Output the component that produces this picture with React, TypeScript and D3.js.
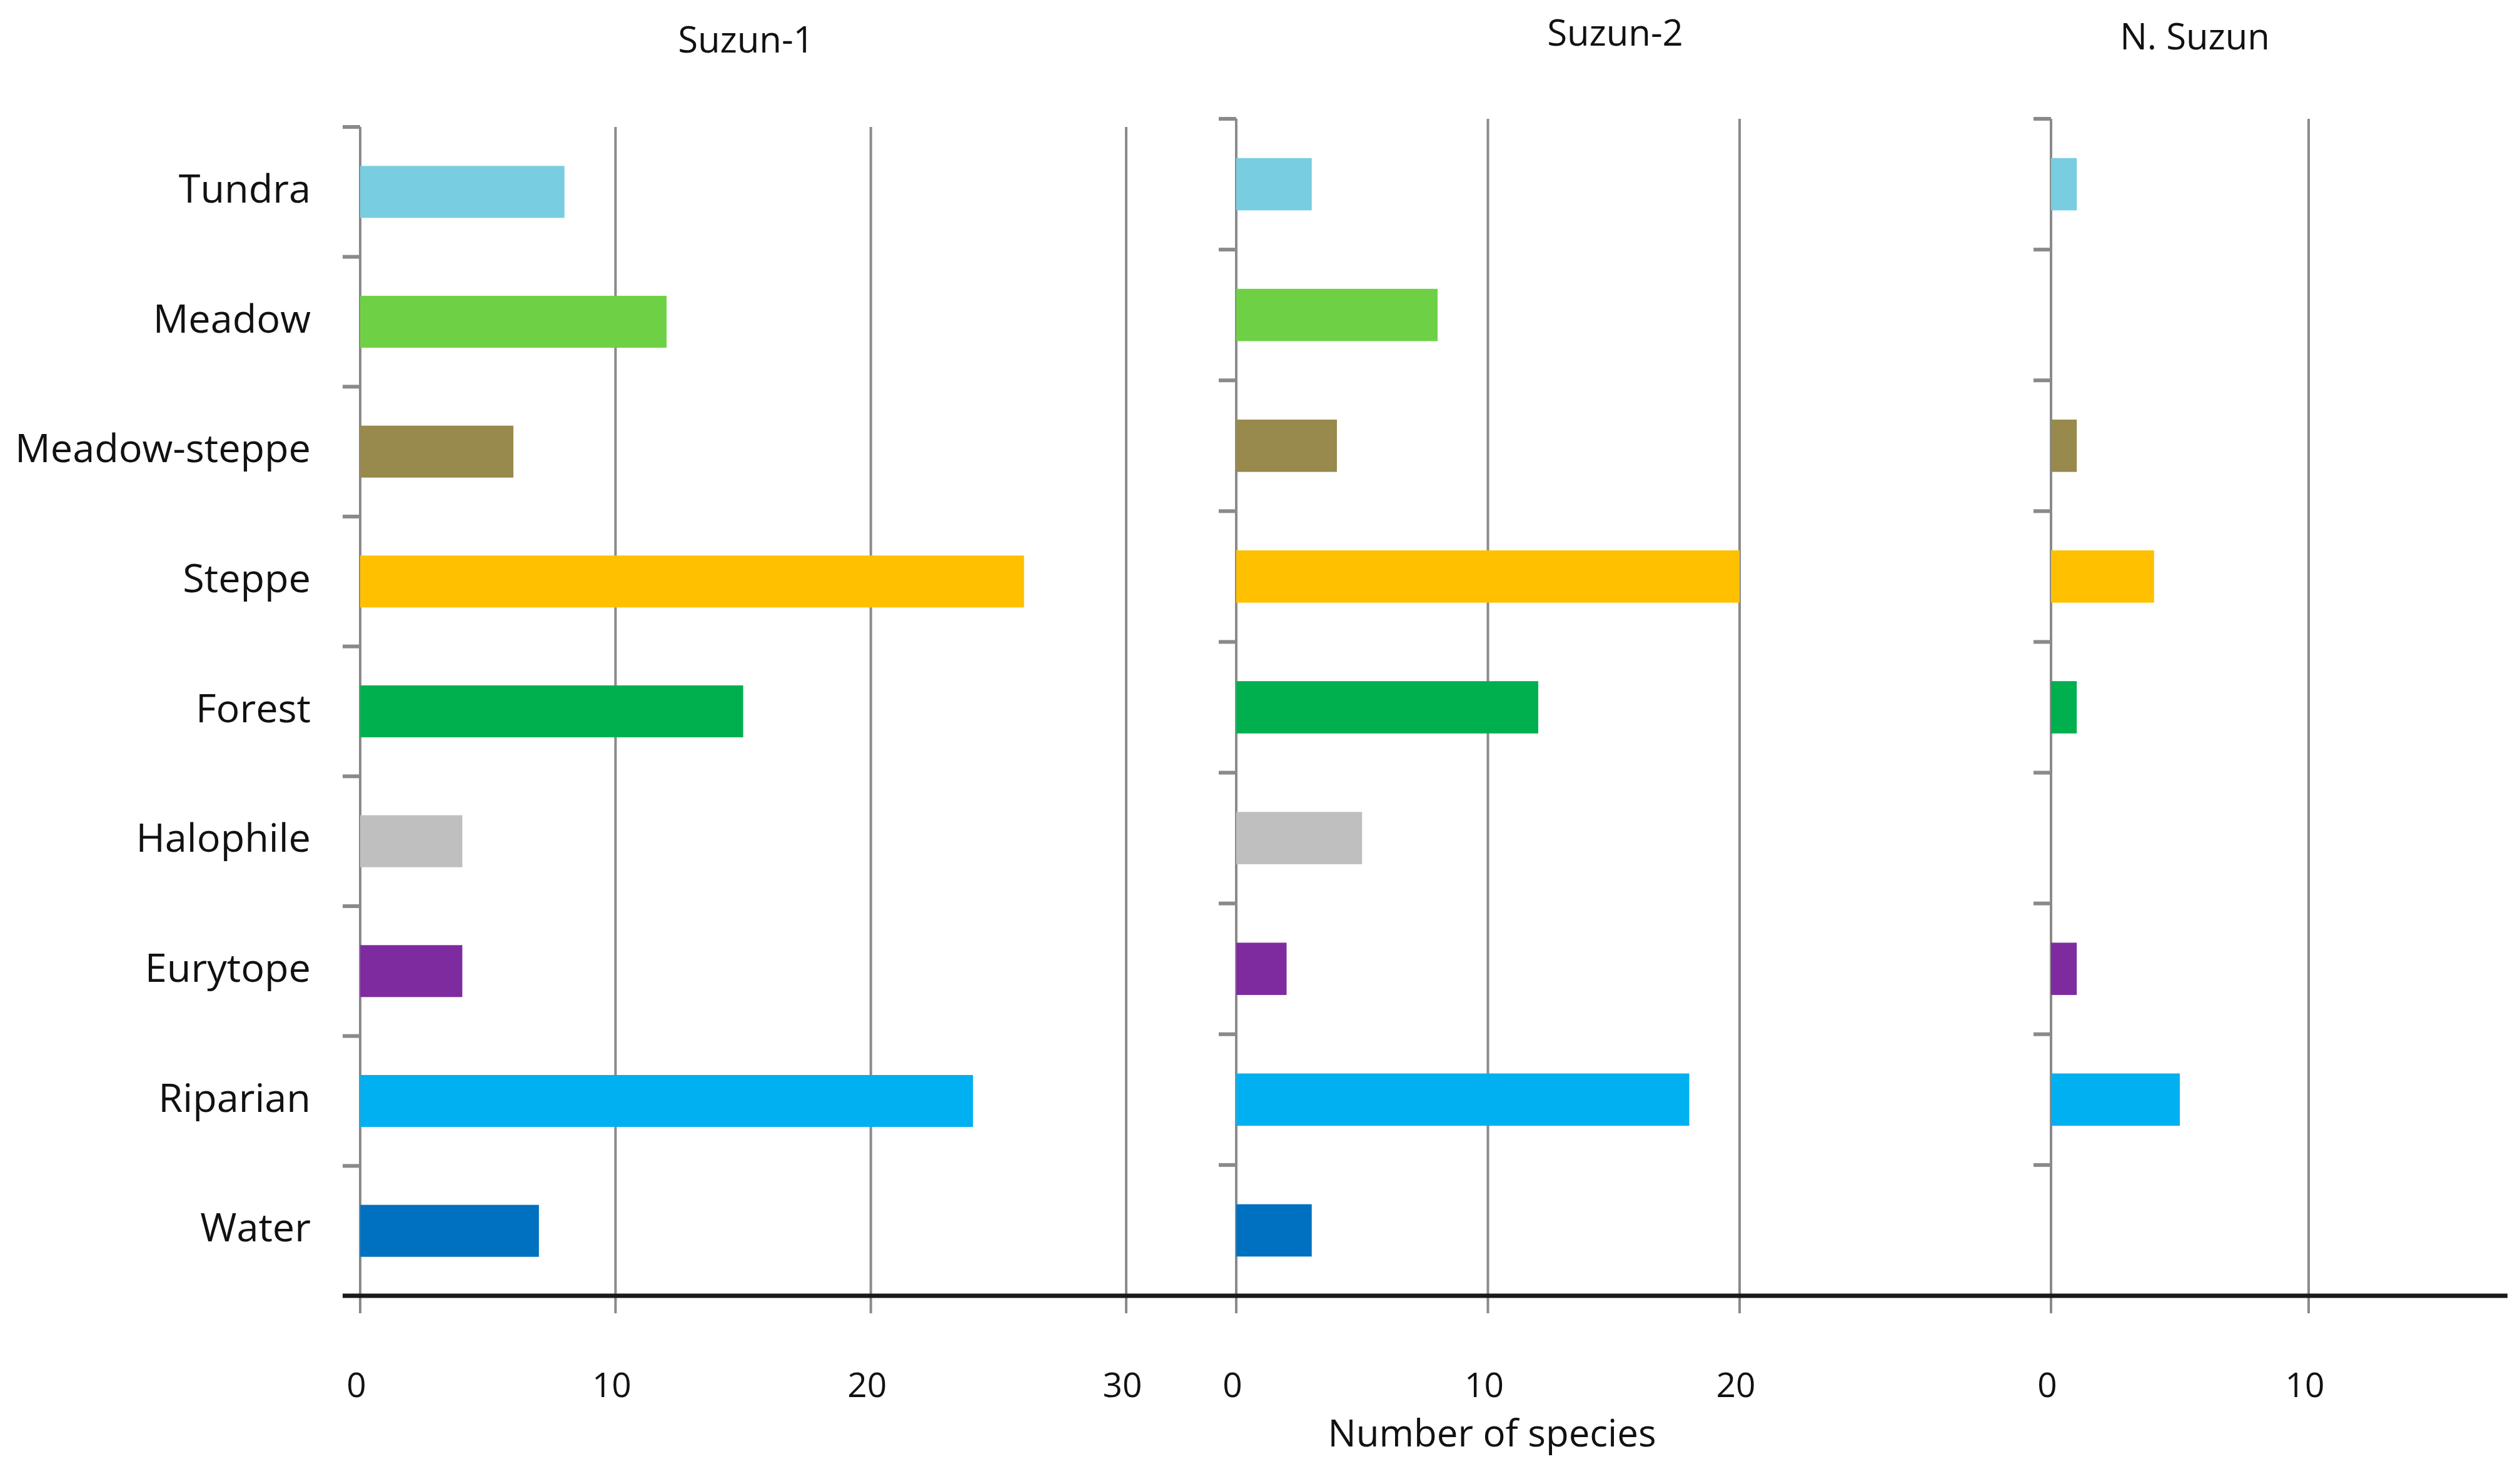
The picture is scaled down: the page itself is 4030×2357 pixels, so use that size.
import * as d3 from 'd3';

const categories = ['Tundra', 'Meadow', 'Meadow-steppe', 'Steppe', 'Forest', 'Halophile', 'Eurytope', 'Riparian', 'Water'];
const categoryColors = ['#78cde0', '#6ed145', '#98894c', '#ffc000', '#00b04f', '#bfbfbf', '#7f2ba0', '#00b0f0', '#0070c0'];

const siteNames = ['Suzun-1', 'Suzun-2', 'N. Suzun'];
const suzun1Values = [8, 12, 6, 26, 15, 4, 4, 24, 7];
const suzun2Values = [3, 8, 4, 20, 12, 5, 2, 18, 3];
const nSuzunValues = [1, 0, 1, 4, 1, 0, 1, 5, 0];

const suzun1Ticks = [0, 10, 20, 30];
const suzun2Ticks = [0, 10, 20];
const nSuzunTicks = [0, 10];

const xTitle = 'Number of species';

const W = 4030;
const H = 2357;
const axisY = 2072;
const gridBottom = 2100;
const font = '"Open Sans", "DejaVu Sans", sans-serif';

// layout for each panel: pixel range of the tick span, top of the category band, title spot
const panels = [
  { name: siteNames[0], values: suzun1Values, ticks: suzun1Ticks, x0: 576, x1: 1801, top: 203, titleX: 1193, titleY: 84 },
  { name: siteNames[1], values: suzun2Values, ticks: suzun2Ticks, x0: 1977, x1: 2782, top: 190, titleX: 2583, titleY: 73 },
  { name: siteNames[2], values: nSuzunValues, ticks: nSuzunTicks, x0: 3280, x1: 3692, top: 190, titleX: 3510, titleY: 79 },
];

function Panel({ p, showLabels }: { p: typeof panels[number]; showLabels: boolean }) {
  const maxTick = p.ticks[p.ticks.length - 1];
  const x = d3.scaleLinear().domain([0, maxTick]).range([p.x0, p.x1]);
  const y = d3.scaleBand<string>().domain(categories).range([p.top, axisY]).paddingInner(0.6).paddingOuter(0.3);
  const off = (y.step() - y.bandwidth()) / 2;

  return (
    <g>
      <text x={p.titleX} y={p.titleY} textAnchor="middle" fontFamily={font} fontSize={58} fill="#111">
        {p.name}
      </text>
      {p.ticks.map((t) => (
        <line key={'g' + t} x1={x(t)} x2={x(t)} y1={p.top} y2={gridBottom} stroke="#8a8a8a" strokeWidth={4} />
      ))}
      {categories.map((c) => (
        <line key={'t' + c} x1={x(0) - 28} x2={x(0)} y1={(y(c) as number) - off} y2={(y(c) as number) - off} stroke="#8a8a8a" strokeWidth={6} />
      ))}
      {categories.map((c, i) =>
        p.values[i] > 0 ? (
          <rect key={'b' + c} x={x(0)} y={y(c)} width={x(p.values[i]) - x(0)} height={y.bandwidth()} fill={categoryColors[i]} />
        ) : null
      )}
      {showLabels &&
        categories.map((c) => (
          <text key={'l' + c} x={497} y={(y(c) as number) + y.bandwidth() / 2 + 17} textAnchor="end" fontFamily={font} fontSize={63} fill="#111">
            {c}
          </text>
        ))}
      {p.ticks.map((t) => (
        <text key={'n' + t} x={x(t) - 6} y={2234} textAnchor="middle" fontFamily={font} fontSize={55} fill="#111">
          {t}
        </text>
      ))}
    </g>
  );
}

export default function App() {
  return (
    <svg width={W} height={H} style={{ position: 'absolute', left: 0, top: 0, background: '#fff' }}>
      <rect width={W} height={H} fill="#fff" />
      {panels.map((p, i) => (
        <Panel key={p.name} p={p} showLabels={i === 0} />
      ))}
      <line x1={548} x2={4010} y1={axisY} y2={axisY} stroke="#1a1a1a" strokeWidth={7} />
      <text x={2386} y={2313} textAnchor="middle" fontFamily={font} fontSize={60} fill="#111">
        {xTitle}
      </text>
    </svg>
  );
}
